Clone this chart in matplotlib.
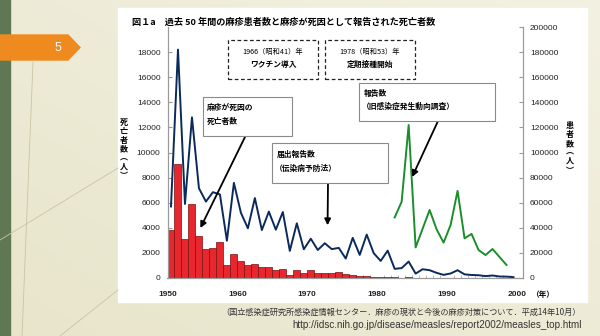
import numpy as np
import matplotlib
matplotlib.use("Agg")
import matplotlib.pyplot as plt
from matplotlib.patches import Rectangle, Polygon
from matplotlib.lines import Line2D

plt.rcParams['font.family'] = ['Noto Sans CJK JP', 'DejaVu Sans']

W, H = 600, 336

# values (1950-1999)
years = np.arange(1950, 2000)
deaths = [3800, 9100, 3130, 5920, 3370, 2290, 2380, 2830, 1000, 1930,
          1370, 1000, 1140, 840, 870, 660, 730, 260, 600, 390,
          600, 380, 430, 420, 460, 300, 260, 190, 190, 100,
          60, 55, 45, 35, 45, 30, 25, 25, 20, 20,
          20, 25, 15, 12, 10, 10, 10, 8, 8, 5]
notified = [5700, 18200, 5900, 12800, 7150, 6090, 6840, 6660, 2970, 7580,
            5200, 3960, 6370, 3820, 5290, 3850, 5260, 2160, 4360, 2290,
            3130, 2230, 2770, 2300, 2400, 1550, 3200, 1840, 3460, 1980,
            1360, 2180, 730, 790, 1310, 350, 700, 620, 410, 250,
            360, 620, 290, 240, 220, 150, 200, 120, 110, 70]
sentinel_years = np.arange(1982, 1999)
sentinel = [48300, 60800, 121900, 24400, 39300, 54200, 38800, 28200, 42200,
            69400, 31600, 35100, 22300, 18300, 23100, 16700, 10400]

left_ticks = np.arange(0, 20000, 2000)
right_ticks = np.arange(0, 200001, 20000)
x_ticks = [1950, 1960, 1970, 1980, 1990, 2000]

title = "図１a　過去 50 年間の麻疹患者数と麻疹が死因として報告された死亡者数"
source1 = "（国立感染症研究所感染症情報センター．麻疹の現状と今後の麻疹対策について．平成14年10月）"
source2 = "http://idsc.nih.go.jp/disease/measles/report2002/measles_top.html"


def P(x, y):
    # pixel position (top-left origin) -> figure fraction
    return (x / W, 1 - y / H)


fig = plt.figure(figsize=(6, 3.36), dpi=100)

# slide background
bg = fig.add_axes([0, 0, 1, 1], zorder=-10)
gx, gy = np.meshgrid(np.linspace(0, 1, 200), np.linspace(0, 1, 120))
t = 0.5 * gx + 0.5 * gy
c0 = np.array([0xE8, 0xE5, 0xCB]) / 255
c1 = np.array([0xF3, 0xF1, 0xE2]) / 255
img = c0[None, None, :] * (1 - t[..., None]) + c1[None, None, :] * t[..., None]
bg.imshow(img, extent=[0, 1, 0, 1], origin='lower', aspect='auto')
bg.set_xlim(0, 1)
bg.set_ylim(0, 1)
bg.axis('off')

for (xa, ya), (xb, yb) in [((33, 62), (22, 336)), ((0, 240), (118, 168)),
                           ((60, 336), (118, 290))]:
    fa, fb = P(xa, ya), P(xb, yb)
    bg.add_line(Line2D([fa[0], fb[0]], [fa[1], fb[1]], color='#C8C4A2', lw=0.6))

bg.add_patch(Rectangle((0, 0), 10 / W, 1, color='#5F7752'))
bg.add_patch(Polygon([P(0, 35), P(68, 35), P(80, 47.5), P(68, 60), P(0, 60)],
                     closed=True, color='#EF8A1F'))
bg.text(*P(58, 48), "5", color='white', fontsize=9, ha='center', va='center',
        family=['Liberation Sans'])

# white chart panel
bg.add_patch(Rectangle(P(118, 302), 469 / W, 294 / H, color='white'))

# chart
ax = fig.add_axes([167.5 / W, 58 / H, (523 - 167.5) / W, 251 / H])
ax.set_facecolor('none')
ax.bar(years, deaths, width=1, align='edge', color='#E8262E',
       edgecolor='#7A1010', lw=0.5, zorder=2)
ax.plot(years + 0.5, notified, color='#0B2A5C', lw=1.4, zorder=3)
ax.set_xlim(1950, 2000.86)
ax.set_ylim(0, 20000)

ax2 = ax.twinx()
ax2.plot(sentinel_years + 0.5, sentinel, color='#1B8E2B', lw=1.4)
ax2.set_ylim(0, 200000)

for a in (ax, ax2):
    a.spines['top'].set_visible(False)
    for s in ('left', 'right', 'bottom'):
        a.spines[s].set_color('#9A9A9A')
        a.spines[s].set_linewidth(0.8)

ax.set_yticks(left_ticks)
ax.set_yticklabels([str(v) for v in left_ticks])
ax.tick_params(axis='y', direction='in', length=3, pad=5, labelsize=6,
               color='#9A9A9A', labelcolor='#222222')
ax.set_xticks(x_ticks)
ax.set_xticklabels([str(v) for v in x_ticks])
ax.tick_params(axis='x', length=0, pad=9, labelsize=6, labelcolor='#222222')
ax.set_xticks(years, minor=True)
ax.tick_params(axis='x', which='minor', direction='in', length=2, color='#B0B0B0')

ax2.set_yticks(right_ticks)
ax2.set_yticklabels([str(v) for v in right_ticks])
ax2.tick_params(axis='y', direction='in', length=3, pad=5, labelsize=6,
                color='#9A9A9A', labelcolor='#222222')

for lab in ax.get_yticklabels() + ax2.get_yticklabels():
    lab.set_family(['Liberation Sans'])
for lab in ax.get_xticklabels():
    lab.set_family(['Liberation Sans'])
    lab.set_fontweight('bold')

fig.text(*P(543, 294), "（年）", fontsize=5.5, fontweight='bold',
         ha='center', va='center')

# vertical axis titles
fig.text(*P(124, 149), "死\n亡\n者\n数\n︵\n人\n︶", fontsize=5.8, fontweight='bold',
         ha='center', va='center', linespacing=1.0)
fig.text(*P(570, 148), "患\n者\n数\n︵\n人\n︶", fontsize=5.8, fontweight='bold',
         ha='center', va='center', linespacing=1.0)

fig.text(*P(132, 22), title, fontsize=6.6, fontweight='bold', ha='left', va='center')

# dashed boxes
for x0, l1, l2 in [(228, "1966（昭和41）年", "ワクチン導入"),
                   (325, "1978（昭和53）年", "定期接種開始")]:
    fig.add_artist(Rectangle(P(x0, 79), 90 / W, 39 / H, facecolor='white',
                             edgecolor='#222222', lw=0.9, ls=(0, (3, 2)), zorder=2))
    fig.text(*P(x0 + 45, 52), l1, fontsize=5.2, ha='center', va='center')
    fig.text(*P(x0 + 45, 64), l2, fontsize=5.6, fontweight='bold', ha='center', va='center')

# callout boxes
boxes = [((203, 97, 292, 136), ["麻疹が死因の", "死亡者数"], [(207, 107), (207, 121)]),
         ((272, 143, 388, 183), ["届出報告数", "（伝染病予防法）"], [(277, 154), (275, 168)]),
         ((359, 83, 495, 121), ["報告数", "（旧感染症発生動向調査）"], [(364, 93), (362, 106)])]
for (xa, ya, xb, yb), lines, pos in boxes:
    fig.add_artist(Rectangle(P(xa, yb), (xb - xa) / W, (yb - ya) / H, facecolor='white',
                             edgecolor='#8A8A8A', lw=0.8, zorder=2))
    for s, (tx, ty) in zip(lines, pos):
        fig.text(*P(tx, ty), s, fontsize=5.6, fontweight='bold', ha='left', va='center')

arrow = dict(arrowstyle='-|>', color='black', lw=1.3, mutation_scale=9,
             shrinkA=0, shrinkB=0)
ax.annotate('', xy=(1954.7, 3980), xytext=P(245, 137), textcoords='figure fraction',
            arrowprops=arrow, annotation_clip=False)
ax.annotate('', xy=(1972.9, 4200), xytext=P(328, 183), textcoords='figure fraction',
            arrowprops=arrow, annotation_clip=False)
ax2.annotate('', xy=(1985.0, 80500), xytext=P(438, 121), textcoords='figure fraction',
             arrowprops=arrow, annotation_clip=False)

# source
fig.text(*P(581, 312), source1, fontsize=5.9, color='#333333', ha='right', va='center')
fig.text(*P(582, 325), source2, fontsize=7.1, color='#333333', ha='right', va='center',
         family=['Liberation Sans'])

fig.savefig("out.png", dpi=100)
